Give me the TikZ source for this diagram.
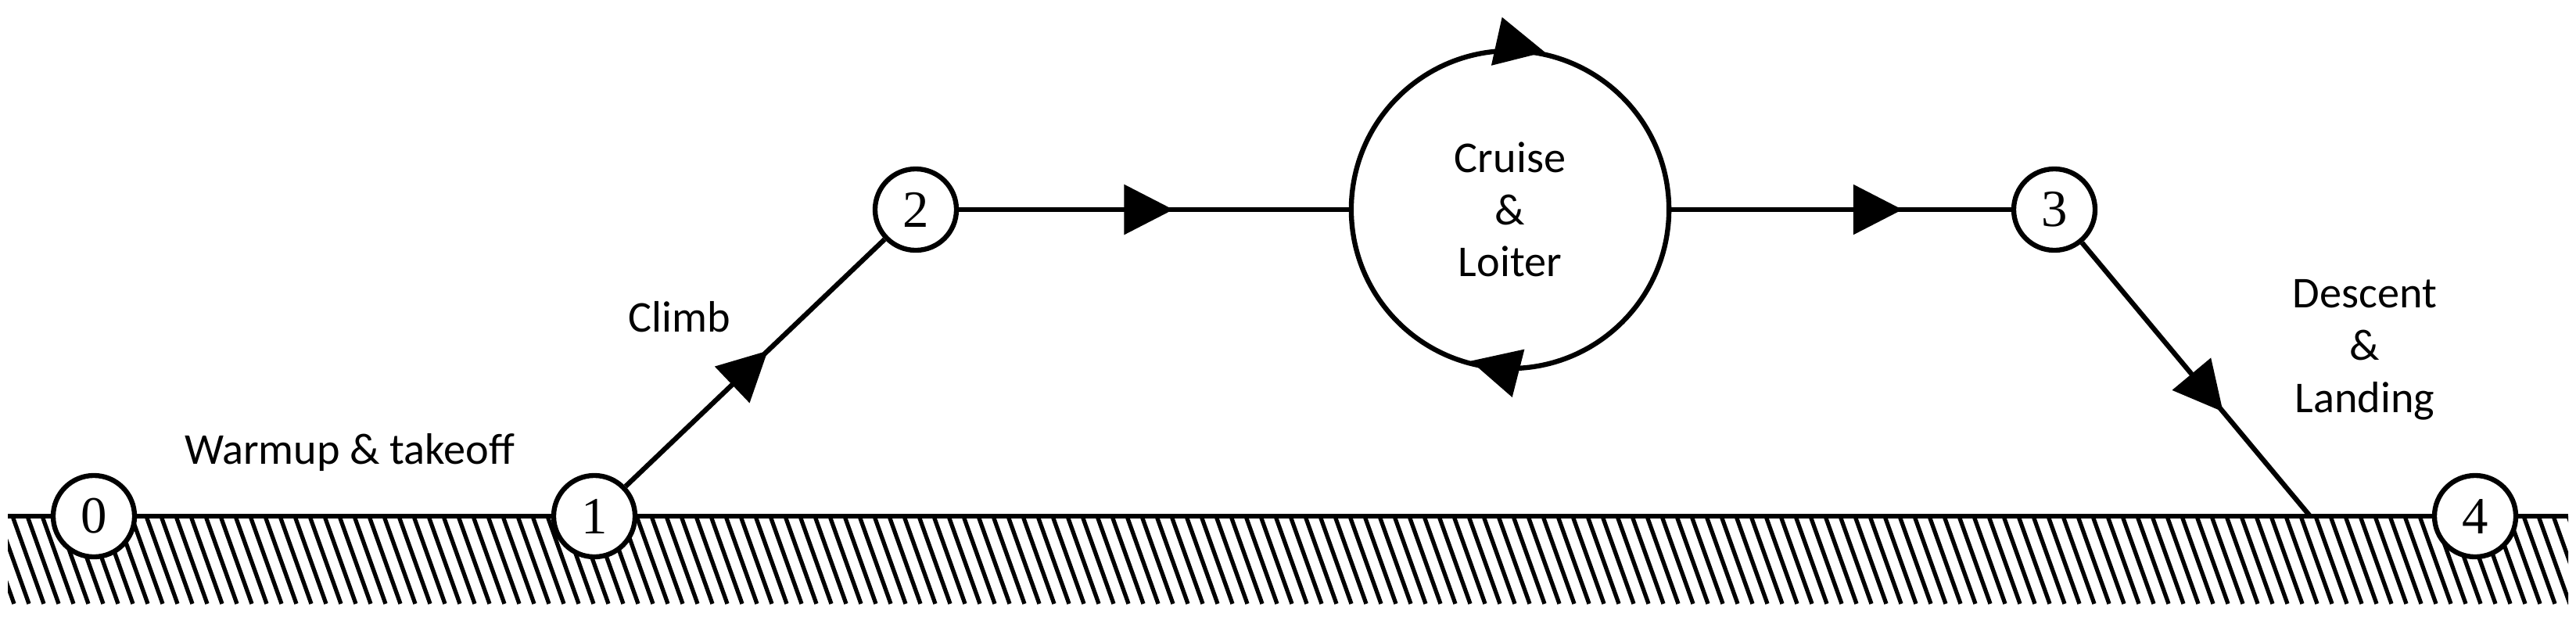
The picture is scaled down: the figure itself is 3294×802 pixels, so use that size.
\documentclass[tikz,border=0pt]{standalone}
\usepackage{fontspec}
\setmainfont{Liberation Serif}
\newfontfamily\lbl{Carlito}
\usetikzlibrary{arrows.meta,decorations.markings}
\begin{document}
\begin{tikzpicture}[x=0.01cm,y=-0.01cm,
  ln/.style={line width=1.8pt},
  pt/.style={circle,draw,ln,fill=white,minimum size=1.04cm,inner sep=0pt,font=\fontsize{19}{19}\selectfont},
  lab/.style={font=\lbl\fontsize{16}{19}\selectfont,align=center},
  tri/.tip={Triangle[length=0.63cm,width=0.63cm]},
  midarrow/.style={postaction={decorate},decoration={markings,mark=at position #1 with {\arrow{tri}}}}]
\useasboundingbox (0,0) rectangle (3294,802);
% hatching
\begin{scope}
\clip (10,660) rectangle (3284,772);
\foreach \x in {-60,-41,...,3300}{\draw[line width=1.5pt] (\x,660) -- (\x+40,772);}
\end{scope}
\coordinate (gl) at (10,660);
\coordinate (gr) at (3284,660);
\coordinate (land) at (2954,660);
\draw[ln] (gl) -- (gr);
\node[circle,draw,ln,minimum size=4.06cm,inner sep=0pt,lab] (big) at (1931,268) {Cruise\\\&\\Loiter};
\node[pt] (n0) at (120,660) {0};
\node[pt] (n1) at (760,660) {1};
\node[pt] (n2) at (1171,268) {2};
\node[pt] (n3) at (2627,268) {3};
\node[pt] (n4) at (3165,660) {4};
\draw[ln,midarrow=0.55] (n1) -- (n2);
\draw[ln,midarrow=0.55] (n2) -- (big);
\draw[ln,midarrow=0.68] (big) -- (n3);
\draw[ln,midarrow=0.62] (n3) -- (land);
\path[decoration={markings,
   mark=at position 0.035 with {\arrow{tri}},
   mark=at position 0.54 with {\arrow{tri}}},decorate]
  (big.north) arc[start angle=90,end angle=-270,radius=2.03cm];
\node[lab] (wt) at (447,578) {Warmup \& takeoff};
\node[lab] (cl) at (869,405) {Climb};
\node[lab] (dl) at (3024,447) {Descent\\\&\\Landing};
\end{tikzpicture}
\end{document}
